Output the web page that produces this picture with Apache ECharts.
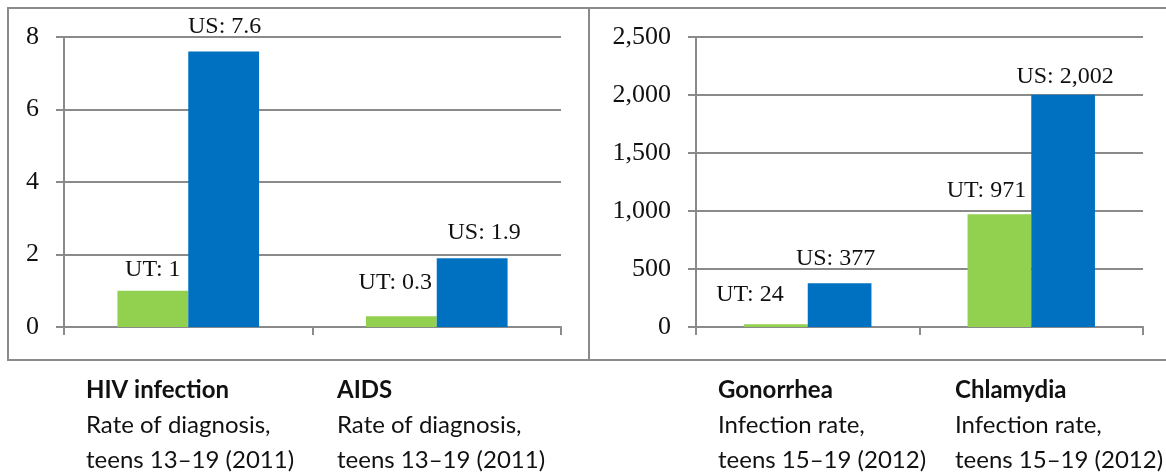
<!DOCTYPE html>
<html>
<head>
<meta charset="utf-8">
<style>
  html, body { margin: 0; padding: 0; background: #fff; }
  #chart { width: 1166px; height: 473px; }
</style>
</head>
<body>
<div id="chart"></div>
<script src="https://cdn.jsdelivr.net/npm/echarts@6/dist/echarts.min.js"></script>
<script>
    // left panel: HIV / AIDS, right panel: STDs
    var leftCats = ['HIV infection', 'AIDS']
    var leftSub1 = ['Rate of diagnosis,', 'Rate of diagnosis,']
    var leftSub2 = ['teens 13\u201319 (2011)', 'teens 13\u201319 (2011)']
    var leftUT = [1, 0.3]
    var leftUS = [7.6, 1.9]
    var leftTicks = [0, 2, 4, 6, 8]

    var rightCats = ['Gonorrhea', 'Chlamydia']
    var rightSub1 = ['Infection rate,', 'Infection rate,']
    var rightSub2 = ['teens 15\u201319 (2012)', 'teens 15\u201319 (2012)']
    var rightUT = [24, 971]
    var rightUS = [377, 2002]
    var rightTicks = [0, 500, 1000, 1500, 2000, 2500]

    // hand-placed data label nudges [dx, dy] (same order as the values)
    var leftUTShift = [[0, -9], [-6, -21]]
    var leftUSShift = [[1, -13], [12, -13]]
    var rightUTShift = [[-26, -18], [-13, -12]]
    var rightUSShift = [[-4, -13], [2, -6]]

    var green = '#92D050'
    var blue = '#0070C0'
    var lineColor = '#8a8a8a'
    var serif = 'Liberation Serif'

    function fmt(v) {
        return String(v).replace(/\B(?=(\d{3})+(?!\d))/g, ',')
    }

    function barSeries(name, values, shifts, color, idx) {
        return {
            type: 'bar',
            name: name,
            xAxisIndex: idx,
            yAxisIndex: idx,
            barGap: 0,
            barCategoryGap: '43%',
            itemStyle: { color: color },
            data: values.map(function (v, i) {
                return { value: v, label: { offset: shifts[i] } }
            }),
            label: {
                show: true,
                position: 'top',
                distance: 0,
                fontFamily: serif,
                fontSize: 24,
                color: '#111',
                formatter: function (p) { return name + ': ' + fmt(p.value) }
            }
        }
    }

    function xAx(cats, idx) {
        return {
            type: 'category',
            gridIndex: idx,
            data: cats,
            axisLine: { lineStyle: { color: lineColor, width: 2 } },
            axisTick: { show: true, length: 8, lineStyle: { color: lineColor, width: 2 } },
            axisLabel: { show: false }
        }
    }

    function yAx(ticks, idx) {
        return {
            type: 'value',
            gridIndex: idx,
            min: ticks[0],
            max: ticks[ticks.length - 1],
            interval: ticks[1] - ticks[0],
            axisLine: { show: true, lineStyle: { color: lineColor, width: 2 } },
            axisTick: { show: true, length: 8, lineStyle: { color: lineColor, width: 2 } },
            splitLine: { lineStyle: { color: lineColor, width: 2 } },
            axisLabel: {
                margin: 25,
                fontFamily: serif,
                fontSize: 26,
                color: '#111',
                formatter: function (v) { return fmt(v) }
            }
        }
    }

    function captions(cats, sub1, sub2, xs) {
        var out = []
        for (var i = 0; i < cats.length; i++) {
            out.push({ type: 'text', x: xs[i], y: 390, style: { text: cats[i], font: 'bold 24px Lato', fill: '#111', verticalAlign: 'middle' } })
            out.push({ type: 'text', x: xs[i], y: 425, style: { text: sub1[i], font: '24px Lato', fill: '#111', verticalAlign: 'middle' } })
            out.push({ type: 'text', x: xs[i], y: 460, style: { text: sub2[i], font: '24px Lato', fill: '#111', verticalAlign: 'middle' } })
        }
        return out
    }

    var myChart = echarts.init(document.getElementById('chart'))
    var option = {
        animation: false,
        grid: [
            { left: 64, top: 37, width: 497, height: 290 },
            { left: 696, top: 37, width: 447, height: 290 }
        ],
        xAxis: [xAx(leftCats, 0), xAx(rightCats, 1)],
        yAxis: [yAx(leftTicks, 0), yAx(rightTicks, 1)],
        series: [
            barSeries('UT', leftUT, leftUTShift, green, 0),
            barSeries('US', leftUS, leftUSShift, blue, 0),
            barSeries('UT', rightUT, rightUTShift, green, 1),
            barSeries('US', rightUS, rightUSShift, blue, 1)
        ],
        graphic: [
            { type: 'rect', shape: { x: 8, y: 8, width: 581, height: 352 }, style: { fill: 'none', stroke: lineColor, lineWidth: 2 } },
            { type: 'rect', shape: { x: 589, y: 8, width: 590, height: 352 }, style: { fill: 'none', stroke: lineColor, lineWidth: 2 } }
        ].concat(captions(leftCats, leftSub1, leftSub2, [86, 337]))
         .concat(captions(rightCats, rightSub1, rightSub2, [718, 955]))
    }
    myChart.setOption(option)
</script>
</body>
</html>
